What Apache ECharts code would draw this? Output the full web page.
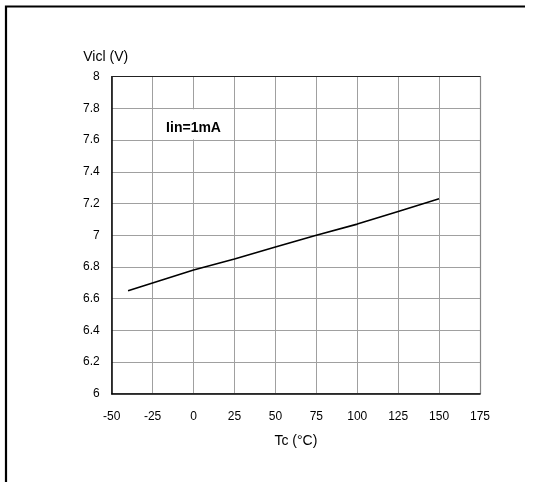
<!DOCTYPE html>
<html>
<head>
<meta charset="utf-8">
<script src="https://cdn.jsdelivr.net/npm/echarts@6/dist/echarts.min.js"></script>
<style>html,body{margin:0;padding:0;background:#fff;}#c{width:535px;height:482px;}</style>
</head>
<body>
<div id="c"></div>
<script>
const tempC = [-40, 0, 25, 50, 75, 100, 125, 150];
const vicl = [6.65, 6.78, 6.85, 6.925, 7.0, 7.07, 7.15, 7.23];
const xTicks = [-50, -25, 0, 25, 50, 75, 100, 125, 150, 175];
const yTicks = [6, 6.2, 6.4, 6.6, 6.8, 7, 7.2, 7.4, 7.6, 7.8, 8];
const annotation = 'Iin=1mA';

const chart = echarts.init(document.getElementById('c'), null, {renderer: 'canvas'});
const font = 'Liberation Sans, Arial, Helvetica, sans-serif';
const grid = '#a0a0a0';
chart.setOption({
  animation: false,
  backgroundColor: '#fff',
  textStyle: {fontFamily: font},
  grid: {left: 111.7, right: 55, top: 76.7, bottom: 88.3, containLabel: false},
  xAxis: [{
    type: 'value', min: xTicks[0], max: xTicks[xTicks.length - 1], interval: 25,
    name: 'Tc (°C)', nameLocation: 'middle', nameGap: 40,
    nameTextStyle: {fontSize: 14, color: '#000', fontFamily: font},
    axisLine: {show: true, onZero: false, lineStyle: {color: '#000', width: 1.5}},
    axisTick: {show: false},
    axisLabel: {fontSize: 12, color: '#000', margin: 17, fontFamily: font},
    splitLine: {show: true, lineStyle: {color: grid, width: 1}}
  }, {
    type: 'value', position: 'top', min: xTicks[0], max: xTicks[xTicks.length - 1], interval: 25,
    axisLine: {show: true, onZero: false, lineStyle: {color: '#222', width: 1.2}},
    axisTick: {show: false}, axisLabel: {show: false}, splitLine: {show: false}
  }],
  yAxis: [{
    type: 'value', min: yTicks[0], max: yTicks[yTicks.length - 1], interval: 0.2,
    name: 'Vicl (V)', nameLocation: 'end', nameGap: 13,
    nameTextStyle: {fontSize: 14, color: '#000', align: 'center', padding: [0, 12, 0, 0], fontFamily: font},
    axisLine: {show: true, onZero: false, lineStyle: {color: '#000', width: 1.5}},
    axisTick: {show: false},
    axisLabel: {fontSize: 12, color: '#000', margin: 12, fontFamily: font,
      formatter: v => String(Math.round(v * 10) / 10)},
    splitLine: {show: true, lineStyle: {color: grid, width: 1}}
  }, {
    type: 'value', position: 'right', min: yTicks[0], max: yTicks[yTicks.length - 1], interval: 0.2,
    axisLine: {show: true, onZero: false, lineStyle: {color: '#888', width: 1.2}},
    axisTick: {show: false}, axisLabel: {show: false}, splitLine: {show: false}
  }],
  graphic: [{
    type: 'polyline', silent: true,
    shape: {points: [[6, 482], [6, 6.5], [525, 6.5]]},
    style: {stroke: '#000', lineWidth: 2.2, fill: null}
  }],
  series: [{
    type: 'line',
    data: tempC.map((t, i) => [t, vicl[i]]),
    showSymbol: false, symbol: 'none',
    lineStyle: {color: '#000', width: 1.6},
    z: 5,
    markArea: {
      silent: true,
      itemStyle: {color: '#fff', opacity: 1},
      label: {show: true, position: 'inside', formatter: annotation, color: '#000', fontWeight: 'bold', fontSize: 14, fontFamily: font, offset: [0, 4]},
      data: [[{xAxis: -24.6, yAxis: 7.605}, {xAxis: 24.6, yAxis: 7.795}]]
    }
  }]
});
</script>
</body>
</html>
